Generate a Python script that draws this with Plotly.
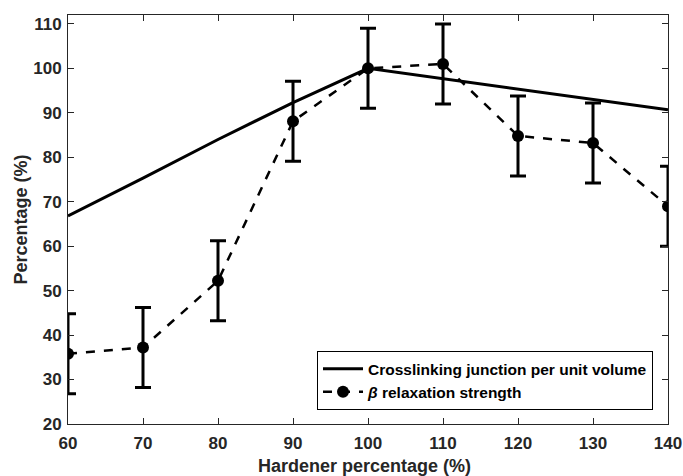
import plotly.graph_objects as go

hardener = [60, 70, 80, 90, 100, 110, 120, 130, 140]
crosslink = [66.8, 75.3, 84.0, 92.3, 100.0, 97.7, 95.3, 93.0, 90.7]
beta = [35.8, 37.2, 52.2, 88.1, 100.0, 101.0, 84.8, 83.2, 69.0]
beta_err = [9, 9, 9, 9, 9, 9, 9, 9, 9]

x_ticks = [60, 70, 80, 90, 100, 110, 120, 130, 140]
y_ticks = [20, 30, 40, 50, 60, 70, 80, 90, 100, 110]

FONT = "Arial, Liberation Sans, sans-serif"
TXT = "#262626"

fig = go.Figure()
fig.add_trace(go.Scatter(
    x=hardener, y=crosslink, mode="lines",
    line=dict(color="black", width=3),
    name="<b>Crosslinking junction per unit volume</b>",
))
fig.add_trace(go.Scatter(
    x=hardener, y=beta, mode="lines+markers",
    line=dict(color="black", width=2.5, dash="dash"),
    marker=dict(color="black", size=12),
    error_y=dict(type="data", array=beta_err, color="black", thickness=3, width=8),
    name="<b><i>β</i> relaxation strength</b>",
))

axis_common = dict(
    showgrid=False, zeroline=False, showline=True, linecolor=TXT, linewidth=1,
    mirror="ticks", ticks="inside", ticklen=6, tickcolor=TXT, automargin=False,
    tickfont=dict(family=FONT, size=17, color=TXT),
)
fig.update_xaxes(range=[60, 140], tickvals=x_ticks, ticklabelstandoff=4,
                 ticktext=[f"<b>{t}</b>" for t in x_ticks], **axis_common)
fig.update_yaxes(range=[20, 112], tickvals=y_ticks, ticklabelstandoff=2,
                 ticktext=[f"<b>{t}</b>" for t in y_ticks], **axis_common)

fig.add_annotation(text="<b>Hardener percentage (%)</b>", xref="paper", yref="paper",
                   x=0.494, y=-0.103, xanchor="center", yanchor="middle", showarrow=False,
                   font=dict(family=FONT, size=18, color=TXT))
fig.add_annotation(text="<b>Percentage (%)</b>", xref="paper", yref="paper",
                   x=-0.08, y=0.50, xanchor="center", yanchor="middle", showarrow=False,
                   textangle=-90, font=dict(family=FONT, size=18, color=TXT))

fig.update_layout(
    width=683, height=476,
    margin=dict(l=68, r=15, t=15, b=52),
    plot_bgcolor="white", paper_bgcolor="white",
    font=dict(family=FONT, color="black"),
    legend=dict(x=0.975, y=0.034, xanchor="right", yanchor="bottom",
                bgcolor="white", bordercolor="black", borderwidth=1,
                font=dict(family=FONT, size=15.5, color="black"),
                itemwidth=40, tracegroupgap=0),
    showlegend=True,
)

fig.write_html("out.html")
